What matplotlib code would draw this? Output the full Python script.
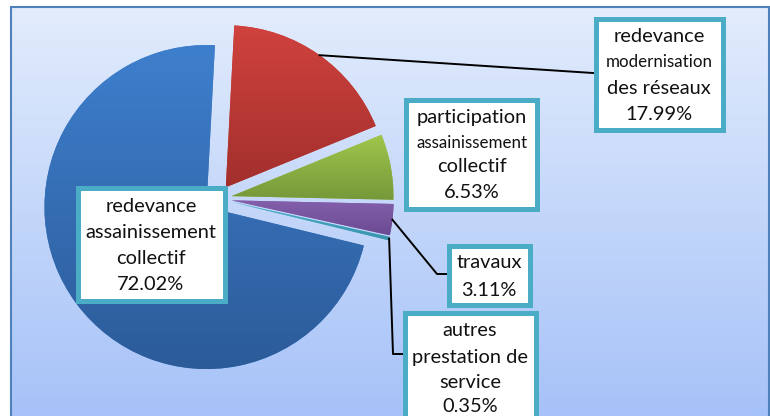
import numpy as np
import matplotlib.pyplot as plt
from matplotlib.colors import LinearSegmentedColormap
from matplotlib.patches import Rectangle

# données du graphique
labels = ["redevance modernisation des réseaux", "participation assainissement collectif",
          "travaux", "autres prestation de service", "redevance assainissement collectif"]
values = [17.99, 6.53, 3.11, 0.35, 72.02]
top_colors = ["#D0423E", "#A0C64C", "#8460AC", "#4BB0CA", "#3E7FCD"]
bottom_colors = ["#A22F2C", "#76983A", "#6A4A92", "#3A93AC", "#2C5B99"]

W, H = 770, 416
fig = plt.figure(figsize=(W / 100, H / 100), dpi=100)
ax = fig.add_axes([0, 0, 1, 1])


def py(y):
    # pixel depuis le haut -> coordonnée de l'axe
    return H - y


cx, cy, r = 217.7, py(198.7), 162
wedges, _ = ax.pie(values, colors=top_colors, startangle=87, counterclock=False,
                   explode=[14] * len(values), radius=r, center=(cx, cy))

# fond dégradé + cadre
grad = np.linspace(0, 1, 256).reshape(-1, 1)
bg_cmap = LinearSegmentedColormap.from_list("bg", ["#A6C2F8", "#E2ECFC"])
ax.imshow(grad, extent=[11, 769, 0, py(7)], origin="lower", cmap=bg_cmap, aspect="auto", zorder=0)
ax.add_patch(Rectangle((11, -5), 758, py(7) + 5, fill=False, ec="#4F81BD", lw=1.5, zorder=1))

# dégradé vertical dans chaque part
for w, c0, c1 in zip(wedges, top_colors, bottom_colors):
    ext = w.get_path().get_extents()
    cm = LinearSegmentedColormap.from_list("", [c1, c0])
    im = ax.imshow(grad, extent=[ext.x0, ext.x1, ext.y0, ext.y1], origin="lower",
                   cmap=cm, aspect="auto", zorder=2)
    im.set_clip_path(w)


def anchor(w):
    a = np.deg2rad((w.theta1 + w.theta2) / 2)
    return w.center[0] + w.r * np.cos(a), w.center[1] + w.r * np.sin(a)


def box(x0, y0, x1, y1):
    ax.add_patch(Rectangle((x0 + 2.5, py(y1 - 2.5)), x1 - x0 - 5, y1 - y0 - 5,
                           fc="white", ec="#4BACC6", lw=3.6, zorder=5))


def lines(x, rows):
    for y, s, size in rows:
        ax.text(x, py(y), s, ha="center", va="center", fontsize=size,
                family="Lato", color="#111111", zorder=6)


big, small = 14.4, 12.2

# lignes de rappel
ax_, ay_ = anchor(wedges[0])
ax.plot([ax_, 593], [ay_, py(73)], color="black", lw=1.4, zorder=4)
ax_, ay_ = anchor(wedges[2])
ax.plot([ax_, 437, 446], [ay_, py(274), py(274)], color="black", lw=1.4, zorder=4)
ax_, ay_ = anchor(wedges[3])
ax.plot([ax_, 393, 402], [ay_, py(354), py(354)], color="black", lw=1.4, zorder=4)

box(75, 185, 227, 303)
lines(151, [(206, "redevance", big), (232, "assainissement", big),
            (258, "collectif", big), (284, "72.02%", big)])

box(593, 16, 725, 132)
lines(659, [(36, "redevance", big), (62, "modernisation", small),
            (88, "des réseaux", big), (114, "17.99%", big)])

box(403, 97, 539, 211)
lines(472, [(117, "participation", big), (143, "assainissement", small),
            (166, "collectif", big), (193, "6.53%", big)])

box(446, 243, 532, 307)
lines(489, [(263, "travaux", big), (290, "3.11%", big)])

box(402, 310, 538, 440)
lines(470, [(330, "autres", big), (357, "prestation de", big),
            (382, "service", big), (407, "0.35%", big)])

ax.set_xlim(0, W)
ax.set_ylim(0, H)
ax.set_aspect("auto")
ax.axis("off")

fig.savefig("out.png", dpi=100, facecolor="white")
